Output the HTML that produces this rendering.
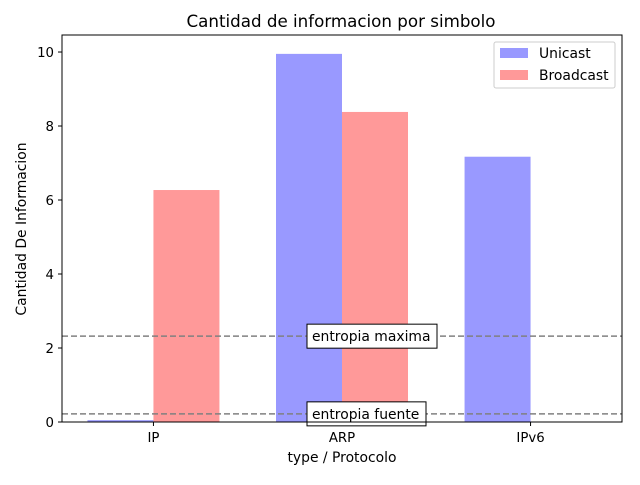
<!DOCTYPE html>
<html><head><meta charset="utf-8"><style>
body{margin:0;background:#fff;}
svg text{font-family:"DejaVu Sans","Liberation Sans",sans-serif;}
</style></head><body>
<svg id="chart" width="640" height="480" xmlns="http://www.w3.org/2000/svg">
<rect width="640" height="480" fill="#fff"/>
<text x="341" y="27" font-size="16.7" text-anchor="middle">Cantidad de informacion por simbolo</text>
<g id="plot"></g>
<text x="342" y="462" font-size="13.9" text-anchor="middle">type / Protocolo</text>
<text transform="translate(26,229) rotate(-90)" font-size="13.9" text-anchor="middle">Cantidad De Informacion</text>
<g>
<rect x="494" y="42" width="121" height="46" fill="#fff" stroke="#ccc" rx="2"/>
<rect x="500" y="48" width="28" height="10" fill="#9999ff"/>
<text x="539" y="58" font-size="13.9">Unicast</text>
<rect x="500" y="70" width="28" height="10" fill="#ff9999"/>
<text x="539" y="80" font-size="13.9">Broadcast</text>
</g>
</svg>
<script>
const categories=["IP","ARP","IPv6"];
const unicast=[0.05,9.95,7.17];
const broadcast=[6.27,8.38,0];
const yTicks=[0,2,4,6,8,10];
const hlines=[2.32,0.22];
const hlabels=["entropia maxima","entropia fuente"];
const L=62,R=622,T=35,B=422,xmin=-0.485,xmax=2.485,ymax=10.46,bw=0.35;
const boxW=[130,119];
const sx=v=>L+(v-xmin)/(xmax-xmin)*(R-L);
const sy=v=>B-v/ymax*(B-T);
const g=document.getElementById('plot');
const NS="http://www.w3.org/2000/svg";
function mk(t,a){const e=document.createElementNS(NS,t);for(const k in a)e.setAttribute(k,a[k]);g.appendChild(e);return e;}
categories.forEach((c,i)=>{
 let r=mk('rect',{x:sx(i-bw),y:sy(unicast[i]),width:sx(i)-sx(i-bw),height:B-sy(unicast[i]),fill:'#9999ff'});
 
 
 let b=mk('rect',{x:sx(i),y:sy(broadcast[i]),width:sx(i+bw)-sx(i),height:B-sy(broadcast[i]),fill:'#ff9999'});
 
 
 let tk=mk('line',{x1:sx(i),x2:sx(i),y1:B,y2:B+4,stroke:'#000'});
 
 
 let t=mk('text',{x:sx(i),y:B+20,'font-size':13.3,'text-anchor':'middle'});t.textContent=c;
 
 
});
yTicks.forEach(v=>{
 let tk=mk('line',{x1:L-4,x2:L,y1:sy(v),y2:sy(v),stroke:'#000'});
 
 
 let t=mk('text',{x:L-8,y:sy(v)+5,'font-size':13.3,'text-anchor':'end'});t.textContent=v;
 
 
});
hlines.forEach((v,i)=>{
 let l=mk('line',{x1:L,x2:R,y1:sy(v),y2:sy(v),stroke:'#808080','stroke-width':1.5,'stroke-dasharray':'6,3'});
 
 
 let bx=mk('rect',{x:307,y:sy(v)-12,width:boxW[i],height:24,fill:'#fff',stroke:'#000'});
 
 
 let t=mk('text',{x:312,y:sy(v)+5,'font-size':13.9});t.textContent=hlabels[i];
 
 
});
let fr=mk('rect',{x:L,y:T,width:R-L,height:B-T,fill:'none',stroke:'#000'});


</script>
</body></html>
